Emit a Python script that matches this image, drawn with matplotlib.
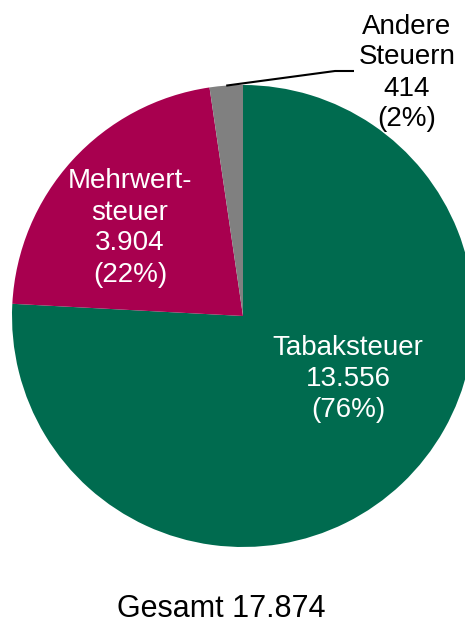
import matplotlib
matplotlib.use("Agg")
import matplotlib.pyplot as plt
import numpy as np

plt.rcParams['font.family'] = ['Liberation Sans', 'DejaVu Sans']

labels = ['Tabaksteuer', 'Mehrwert-\nsteuer', 'Andere\nSteuern']
values = [13556, 3904, 414]
colors = ['#006B4F', '#A8004F', '#808080']
total = sum(values)


def fmt(n):
    return f"{n:,}".replace(",", ".")


fig = plt.figure(figsize=(4.65, 6.24), dpi=100)
ax = fig.add_axes([0, 0, 1, 1])

cx, cy, r = 243, 308, 231
ax.pie(values, colors=colors, startangle=90, counterclock=False,
       center=(cx, cy), radius=r, wedgeprops=dict(linewidth=0))
ax.set_xlim(0, 465)
ax.set_ylim(0, 624)
ax.set_aspect('auto')
ax.axis('off')

texts = [f"{l}\n{fmt(v)}\n({round(100 * v / total)}%)" for l, v in zip(labels, values)]

# Tabaksteuer
ax.text(348, 245, texts[0], ha='center', va='center', color='white',
        fontsize=20, linespacing=1.25)
# Mehrwertsteuer
ax.text(130, 396, texts[1], ha='center', va='center', color='white',
        fontsize=20, linespacing=1.25)
# Andere Steuern, outside with leader line
ax.text(407, 551, texts[2], ha='center', va='center', color='black',
        fontsize=20, linespacing=1.25)
mid = np.deg2rad(90 - 360 * (1 - values[2] / total / 2))
x0, y0 = cx + r * np.cos(mid), cy + r * np.sin(mid)
ax.plot([x0, 335, 354], [y0, 553, 553], color='black', linewidth=1.5,
        solid_capstyle='butt')

ax.text(221, 15, f"Gesamt {fmt(total)}", ha='center', va='center',
        color='black', fontsize=22)

fig.savefig('out.png', dpi=100)
plt.close(fig)
